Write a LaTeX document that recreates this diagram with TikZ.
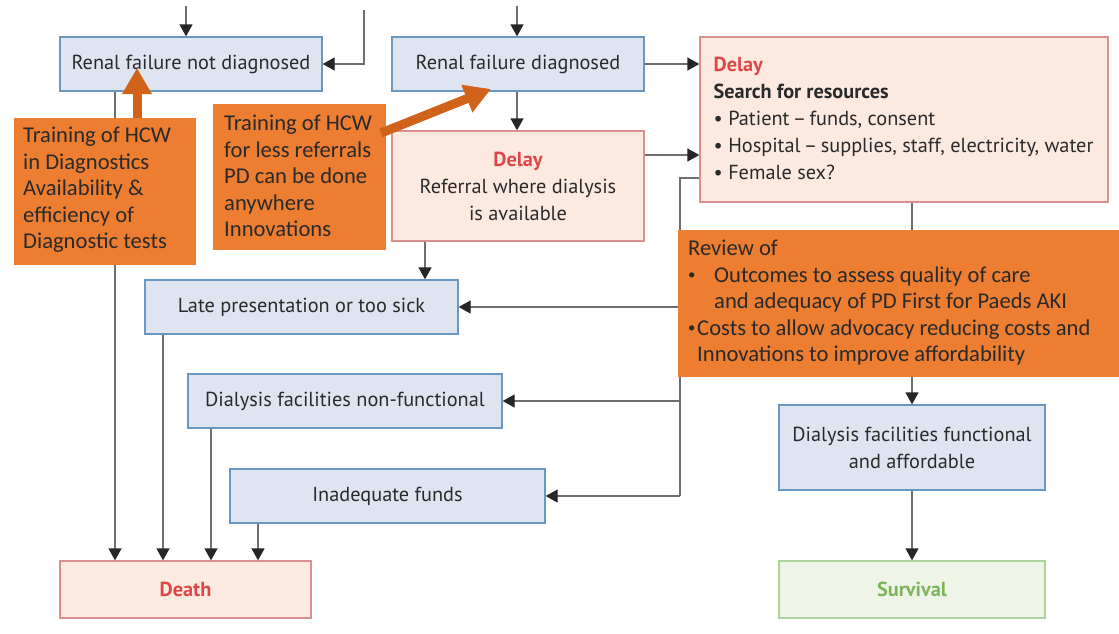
\documentclass[tikz,border=0pt]{standalone}
\usepackage{fontspec}
\usepackage{graphicx}
\setmainfont{PT Sans}
\newfontfamily\orfont{Carlito}
\usetikzlibrary{arrows.meta}
\definecolor{bluefill}{HTML}{DEE5F1}
\definecolor{blueline}{HTML}{6A98C4}
\definecolor{pinkfill}{HTML}{FCE9E0}
\definecolor{pinkline}{HTML}{DB9090}
\definecolor{greenfill}{HTML}{EEF5E6}
\definecolor{greenline}{HTML}{AED39A}
\definecolor{greentext}{HTML}{7DB55C}
\definecolor{redtext}{HTML}{DC4848}
\definecolor{orangebox}{HTML}{ED7D31}
\definecolor{orangearrow}{HTML}{D0621A}
\definecolor{txt}{HTML}{2A2A2A}
\definecolor{linegray}{HTML}{6E6E6E}
\newcommand{\smbul}{\raisebox{0.13em}{\scalebox{0.65}{•}}}
\begin{document}
\begin{tikzpicture}[x=1pt,y=-1pt,
  box/.style={draw, line width=1.3pt, inner sep=0pt, text=txt, align=center,
    font=\fontsize{20.3}{27}\selectfont},
  bluebox/.style={box, draw=blueline, fill=bluefill},
  pinkbox/.style={box, draw=pinkline, fill=pinkfill},
  greenbox/.style={box, draw=greenline, fill=greenfill},
  obox/.style={fill=orangebox, draw=none, inner sep=0pt},
  otext/.style={align=left, inner sep=0pt, text=txt, font=\orfont\fontsize{22.6}{26.5}\selectfont, anchor=west},
  conn/.style={draw=linegray, line width=1.3pt},
  arr/.style={conn, -{Triangle[length=12pt,width=13pt,color=black!85]}},
  oarrow/.style={draw=orangearrow, line width=9pt, -{Triangle[length=26pt,width=28pt]}}
]
\useasboundingbox (0,0) rectangle (1119,633);
\fill[white] (0,0) rectangle (1119,633);

% boxes
\node[bluebox, minimum width=262pt, minimum height=54pt] (A) at (191,64) {Renal failure not diagnosed};
\node[bluebox, minimum width=252pt, minimum height=54pt] (B) at (518,64) {Renal failure diagnosed};
\node[pinkbox, minimum width=408pt, minimum height=165pt] (C) at (904,119.5) {};
\node[box, draw=none, fill=none, align=left, anchor=west] (Ct) at (713,118) {{\color{redtext}\bfseries Delay}\\ \textbf{Search for resources}\\ • Patient\,–\,funds, consent\\ • Hospital\,–\,supplies, staff, electricity, water\\ • Female sex?};
\node[pinkbox, minimum width=252pt, minimum height=110pt] (D) at (518,186) {{\color{redtext}\bfseries Delay}\\ Referral where dialysis\\ is available};
\node[bluebox, minimum width=313pt, minimum height=54pt] (G) at (301.5,307) {Late presentation or too sick};
\node[bluebox, minimum width=314pt, minimum height=54pt] (H) at (345,401) {Dialysis facilities non-functional};
\node[bluebox, minimum width=315pt, minimum height=54pt] (I) at (387.5,496) {Inadequate funds};
\node[pinkbox, minimum width=251pt, minimum height=57pt] (Death) at (185.5,589.5) {{\color{redtext}\bfseries Death}};
\node[bluebox, minimum width=266pt, minimum height=85pt] (E) at (912,447.5) {Dialysis facilities functional\\ and affordable};
\node[greenbox, minimum width=266pt, minimum height=57pt] (S) at (912,589.5) {{\color{greentext}\bfseries Survival}};

% connectors
\coordinate (topA) at (186,6);
\coordinate (topL) at (364,10);
\coordinate (topB) at (517,6);
\coordinate (bus) at (680,0);
\coordinate (d1) at (115,0);
\coordinate (d2) at (163,0);
\coordinate (d3) at (211,0);
\coordinate (d4) at (258,0);
\coordinate (dg) at (425,0);
\draw[arr] (topA) -- (topA |- A.north);
\draw[arr] (topL) |- (A.east);
\draw[arr] (topB) -- (topB |- B.north);
\draw[arr] (B.east) -- (B.east -| C.west);
\draw[arr] (B.south -| topB) -- (D.north -| topB);
\draw[arr] ([yshift=31pt]D.east) -- ([yshift=31pt]D.east -| C.west);
\draw[conn] ([yshift=-58.5pt]C.west) -| (bus |- I.east);
\draw[arr] (bus |- G.east) -- (G.east);
\draw[arr] (bus |- H.east) -- (H.east);
\draw[arr] (bus |- I.east) -- (I.east);
\draw[arr] (E.north |- C.south) -- (E.north);
\draw[arr] (E.south) -- (S.north);
\draw[arr] (dg |- D.south) -- (dg |- G.north);
\draw[arr] (d1 |- A.south) -- (d1 |- Death.north);
\draw[arr] (d2 |- G.south) -- (d2 |- Death.north);
\draw[arr] (d3 |- H.south) -- (d3 |- Death.north);
\draw[arr] (d4 |- I.south) -- (d4 |- Death.north);

% orange boxes
\node[obox, minimum width=182pt, minimum height=147pt] (O1) at (105,191.5) {};
\node[otext] (O1t) at (23,190) {Training of HCW\\ in Diagnostics\\ Availability \&\\ efficiency of\\ Diagnostic tests};
\node[obox, minimum width=173pt, minimum height=146pt] (O2) at (299.5,177) {};
\node[otext] (O2t) at (224,176) {Training of HCW\\ for less referrals\\ PD can be done\\ anywhere\\ Innovations};
\node[obox, minimum width=441pt, minimum height=147pt] (O3) at (898.5,303.5) {};
\node[otext] (O3t) at (688,303) {Review of\\ \makebox[26pt][l]{\smbul}Outcomes to assess quality of care\\ \hspace*{26pt}and adequacy of PD First for Paeds AKI\\ \makebox[9pt][l]{\smbul}Costs to allow advocacy reducing costs and\\ \hspace*{9pt}Innovations to improve affordability};

% orange arrows
\coordinate (oa1) at (137,68);
\coordinate (oa2s) at (381,133);
\coordinate (oa2) at (491,89);
\draw[oarrow] (O1.north -| oa1) -- (oa1);
\draw[oarrow] (oa2s) -- (oa2);
\end{tikzpicture}
\end{document}
